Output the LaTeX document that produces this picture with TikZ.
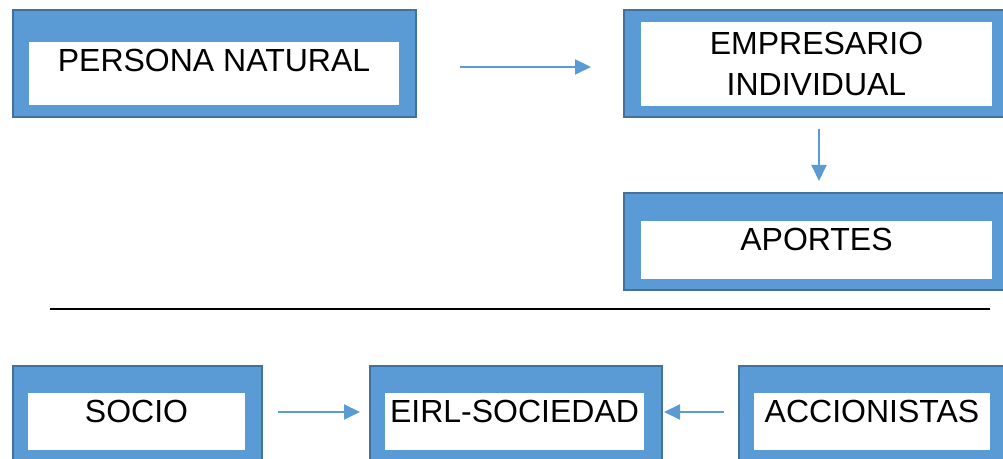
\documentclass[tikz,border=0pt]{standalone}
\usepackage{fontspec}
\setmainfont{Liberation Sans}
\usetikzlibrary{positioning,arrows.meta}
\definecolor{boxblue}{RGB}{91,155,213}
\definecolor{edgeblue}{RGB}{65,113,156}

\begin{document}
\begin{tikzpicture}[x=0.5pt,y=-0.5pt,
  outerbox/.style={rectangle,draw=edgeblue,fill=boxblue,line width=1pt,inner sep=0pt},
  innerbox/.style={rectangle,fill=white,inner sep=0pt,
    font=\fontsize{16pt}{20.5pt}\selectfont},
  link/.style={-{Triangle[length=8pt,width=7.5pt]},boxblue,line width=1pt}]
\clip (0,0) rectangle (1003,459);
% Upper chain
\node[outerbox,minimum width=201.5pt,minimum height=53.5pt] (pn) at (214.5,63.5) {};
\node[innerbox,minimum width=185pt,text height=15pt,text depth=16.5pt]
  (pntext) at (214,73.5) {PERSONA NATURAL};
\node[outerbox,minimum width=192.5pt,minimum height=53.5pt] (ei) at (816.5,63.5) {};
\node[innerbox,align=center,minimum width=175.5pt,minimum height=42pt]
  (eitext) at (816.5,64) {EMPRESARIO\\INDIVIDUAL};
\node[outerbox,minimum width=192.5pt,minimum height=48.5pt] (ap) at (816.5,241.5) {};
\node[innerbox,minimum width=175.5pt,text height=15pt,text depth=14pt]
  (aptext) at (816.5,250) {APORTES};
% Separator
\draw[line width=0.75pt] (50,309) -- (990,309);
% Lower chain
\node[outerbox,minimum width=124.5pt,minimum height=47.5pt] (so) at (137.5,413.5) {};
\node[innerbox,minimum width=108.5pt,text height=15pt,text depth=13.5pt]
  (sotext) at (136.5,421.5) {SOCIO};
\node[outerbox,minimum width=146pt,minimum height=47.5pt] (es) at (516,413.5) {};
\node[innerbox,minimum width=129.5pt,text height=15pt,text depth=13.5pt]
  (estext) at (514.5,421.5) {EIRL-SOCIEDAD};
\node[outerbox,minimum width=133.5pt,minimum height=47.5pt] (ac) at (872.5,413.5) {};
\node[innerbox,minimum width=118pt,text height=15pt,text depth=13.5pt]
  (actext) at (872,421.5) {ACCIONISTAS};
% Arrows
\draw[link,shorten <=21.5pt,shorten >=16pt] ([yshift=-1.75pt]pn.east) -- ([yshift=-1.75pt]ei.west);
\draw[link,shorten <=5.5pt,shorten >=5.5pt] ([xshift=1.25pt]ei.south) -- ([xshift=1.25pt]ap.north);
\draw[link,shorten <=7.5pt,shorten >=4.5pt] ([yshift=0.75pt]so.east) -- ([yshift=0.75pt]es.west);
\draw[link,shorten <=7pt,shorten >=0.5pt] ([yshift=0.75pt]ac.west) -- ([yshift=0.75pt]es.east);
\end{tikzpicture}
\end{document}
